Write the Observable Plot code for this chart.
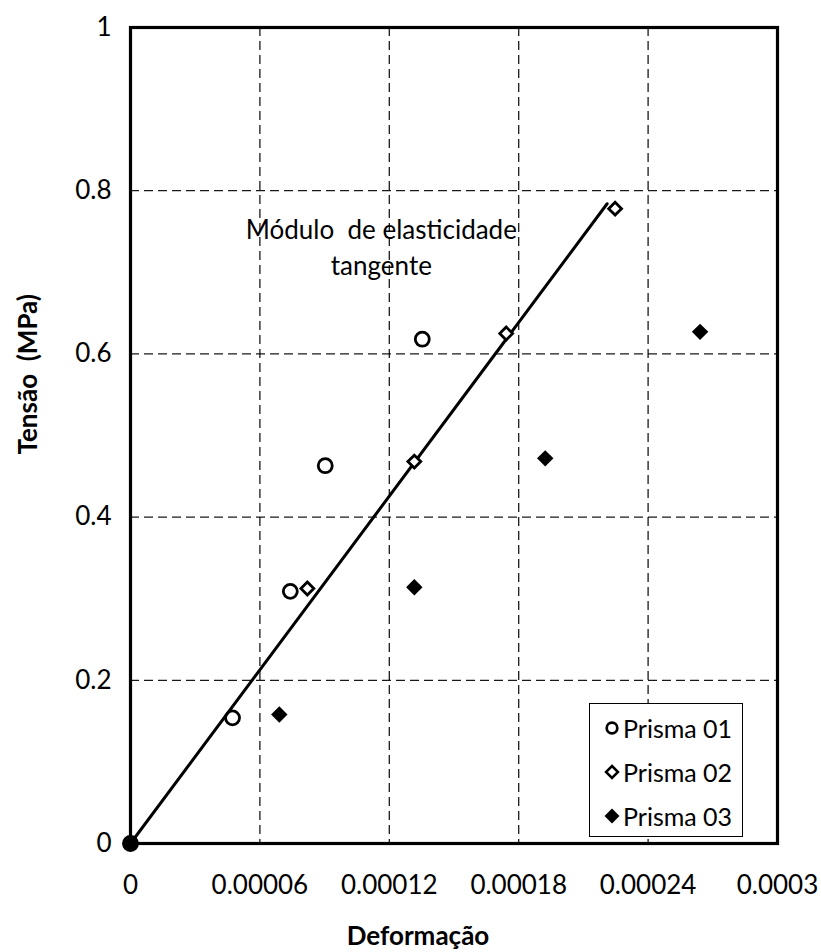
<!DOCTYPE html>
<html>
<head>
<meta charset="utf-8">
<script src="https://cdn.jsdelivr.net/npm/d3@7"></script>
<script src="https://cdn.jsdelivr.net/npm/@observablehq/plot@0.6"></script>
<style>
  html, body { margin: 0; padding: 0; background: #fff; }
  #wrap { position: relative; width: 821px; height: 952px; font-family: Lato, "Open Sans", sans-serif; }
  #wrap svg text { white-space: pre; }
  #legend { position: absolute; left: 589px; top: 703px; width: 154px; height: 134px; box-sizing: border-box;
            border: 1.3px solid #000; background: #fff; padding-top: 2px; }
  .item { height: 44px; display: flex; align-items: center; font-size: 25px; color: #000; }
  .item svg { margin-left: 13px; margin-right: 2px; }
</style>
</head>
<body>
<div id="wrap"></div>
<script>
// ---- data ----
const prisma01X = [0, 0.0000473, 0.0000741, 0.0000903, 0.0001353];
const prisma01Y = [0, 0.154, 0.309, 0.463, 0.618];
const prisma02X = [0, 0.000082, 0.0001316, 0.0001742, 0.0002247];
const prisma02Y = [0, 0.3125, 0.468, 0.625, 0.778];
const prisma03X = [0, 0.000069, 0.0001316, 0.0001923, 0.0002641];
const prisma03Y = [0, 0.158, 0.314, 0.472, 0.627];
const tangentX = [0, 0.000221];
const tangentY = [0, 0.784];
const seriesNames = ["Prisma 01", "Prisma 02", "Prisma 03"];
const xTickValues = [0, 0.00006, 0.00012, 0.00018, 0.00024, 0.0003];
const xTickLabels = ["0", "0.00006", "0.00012", "0.00018", "0.00024", "0.0003"];
const yTickValues = [0, 0.2, 0.4, 0.6, 0.8, 1];
const yTickLabels = ["0", "0.2", "0.4", "0.6", "0.8", "1"];
const xGridValues = [0.00006, 0.00012, 0.00018, 0.00024];
const yGridValues = [0.2, 0.4, 0.6, 0.8];
const annotationX = [0.0001163];
const annotationY = [0.733];
const annotationText = ["Módulo  de elasticidade\ntangente"];
const xLabel = "Deformação";
const yLabel = "Tensão  (MPa)";

const toPoints = (xs, ys) => xs.map((x, i) => ({x, y: ys[i]}));
const p1 = toPoints(prisma01X, prisma01Y);
const p2 = toPoints(prisma02X, prisma02Y);
const p3 = toPoints(prisma03X, prisma03Y);
const tangent = toPoints(tangentX, tangentY);
const annotation = annotationX.map((x, i) => ({x, y: annotationY[i], t: annotationText[i]}));

const chart = Plot.plot({
  width: 821,
  height: 952,
  marginLeft: 130,
  marginRight: 44,
  marginTop: 27,
  marginBottom: 109,
  style: {fontFamily: "Lato, 'Open Sans', sans-serif", fontSize: "26px", color: "#000", background: "#fff"},
  x: {domain: [0, 0.0003]},
  y: {domain: [0, 1]},
  marks: [
    Plot.gridX(xGridValues, {stroke: "#000", strokeOpacity: 0.9, strokeWidth: 1.3, strokeDasharray: "9,5"}),
    Plot.gridY(yGridValues, {stroke: "#000", strokeOpacity: 0.9, strokeWidth: 1.3, strokeDasharray: "9,5"}),
    Plot.axisX(xTickValues, {tickSize: 0, tickPadding: 32, label: null, tickFormat: (d, i) => xTickLabels[i], fontSize: 26}),
    Plot.axisY(yTickValues, {tickSize: 0, tickPadding: 19, label: null, tickFormat: (d, i) => yTickLabels[i], fontSize: 26}),
    Plot.line(tangent, {x: "x", y: "y", stroke: "#000", strokeWidth: 3}),
    Plot.dot(p1, {x: "x", y: "y", symbol: "circle", r: 7, stroke: "#000", strokeWidth: 2.8, fill: "none"}),
    Plot.dot(p2, {x: "x", y: "y", symbol: "diamond2", r: 5.8, stroke: "#000", strokeWidth: 2.8, fill: "#fff"}),
    Plot.dot(p3, {x: "x", y: "y", symbol: "diamond2", r: 7.4, fill: "#000", stroke: "none"}),
    Plot.text(annotation, {x: "x", y: "y", text: "t", fontSize: 26, lineHeight: 1.4, lineAnchor: "middle", fill: "#000"}),
    Plot.text([xLabel], {frameAnchor: "bottom", text: d => d, dx: -36, dy: 93, lineAnchor: "middle", fontWeight: "bold", fontSize: 26, fill: "#000"}),
    Plot.text([yLabel], {frameAnchor: "left", text: d => d, rotate: -90, dx: -102, dy: 19, lineAnchor: "middle", fontWeight: "bold", fontSize: 26, fill: "#000"}),
    Plot.frame({stroke: "#000", strokeWidth: 3.2})
  ]
});
const wrap = document.getElementById("wrap");
wrap.appendChild(chart);

// legend (HTML overlay inside the frame)
const symbols = [
  '<svg width="18" height="18" viewBox="-9 -9 18 18"><circle r="5.3" fill="none" stroke="#000" stroke-width="2.7"/></svg>',
  '<svg width="18" height="18" viewBox="-9 -9 18 18"><path d="M0,-6L6,0L0,6L-6,0Z" fill="#fff" stroke="#000" stroke-width="2.5"/></svg>',
  '<svg width="18" height="18" viewBox="-9 -9 18 18"><path d="M0,-7.5L7.5,0L0,7.5L-7.5,0Z" fill="#000"/></svg>'
];
const legend = document.createElement("div");
legend.id = "legend";
legend.innerHTML = seriesNames.map((n, i) => `<div class="item">${symbols[i]}<span>${n}</span></div>`).join("");
wrap.appendChild(legend);
</script>
</body>
</html>
